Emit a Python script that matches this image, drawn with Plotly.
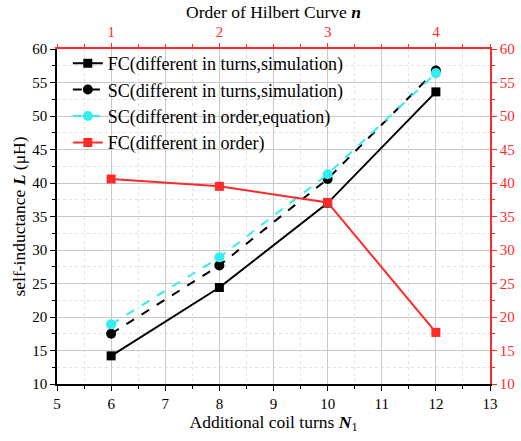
import plotly.graph_objects as go

turns = [6, 8, 10, 12]
orders = [1, 2, 3, 4]
fc_turns = [14.2, 24.4, 37.0, 53.6]
sc_turns = [17.5, 27.7, 40.6, 56.8]
sc_order_eq = [18.9, 28.9, 41.3, 56.4]
fc_order = [40.6, 39.5, 37.1, 17.7]

FONT = "Liberation Serif"
RED = "#ff2a2a"
CYAN = "#33eeee"

fig = go.Figure()
fig.add_trace(go.Scatter(x=turns, y=fc_turns, mode="lines+markers",
                         name="FC(different in turns,simulation)",
                         line=dict(color="black", width=2),
                         marker=dict(symbol="square", size=9, color="black")))
fig.add_trace(go.Scatter(x=turns, y=sc_turns, mode="lines+markers",
                         name="SC(different in turns,simulation)",
                         line=dict(color="black", width=2, dash="dash"),
                         marker=dict(symbol="circle", size=10, color="black")))
fig.add_trace(go.Scatter(x=orders, y=sc_order_eq, mode="lines+markers",
                         name="SC(different in order,equation)",
                         line=dict(color=CYAN, width=2, dash="dash"),
                         marker=dict(symbol="circle", size=10, color=CYAN),
                         xaxis="x2", yaxis="y2"))
fig.add_trace(go.Scatter(x=orders, y=fc_order, mode="lines+markers",
                         name="FC(different in order)",
                         line=dict(color=RED, width=2),
                         marker=dict(symbol="square", size=9, color=RED),
                         xaxis="x2", yaxis="y2"))

grid_major = "#c8c8c8"
grid_minor = "#e2e2e2"

fig.update_layout(
    width=521, height=441,
    margin=dict(l=57, r=31, t=49, b=57, autoexpand=False),
    paper_bgcolor="white", plot_bgcolor="white",
    font=dict(family=FONT, size=15, color="black"),
    showlegend=True,
    legend=dict(x=0.025, y=1.012, xanchor="left", yanchor="top",
                bgcolor="rgba(0,0,0,0)", font=dict(size=18, family=FONT),
                tracegroupgap=0, itemwidth=30),
    xaxis=dict(range=[5, 13], dtick=1, tick0=5, showline=True, linecolor="black",
               linewidth=1.5, ticks="outside", ticklen=5, tickcolor="black",
               zeroline=False, automargin=False,
               showgrid=True, gridcolor=grid_major, gridwidth=1,
               minor=dict(dtick=0.5, ticks="outside", ticklen=3, tickcolor="black",
                          showgrid=True, gridcolor=grid_minor, griddash="dot"),
               title=dict(text="Additional coil turns <b><i>N</i></b><sub>1</sub>",
                          font=dict(size=17.5), standoff=3),
               tickfont=dict(size=15)),
    yaxis=dict(range=[10, 60], dtick=5, tick0=10, showline=True, linecolor="black",
               linewidth=1.5, ticks="outside", ticklen=5, tickcolor="black",
               zeroline=False, automargin=False,
               showgrid=True, gridcolor=grid_major, gridwidth=1,
               minor=dict(dtick=2.5, ticks="outside", ticklen=3, tickcolor="black",
                          showgrid=True, gridcolor=grid_minor, griddash="dot"),
               title=dict(text="self-inductance <b><i>L</i></b> (μH)",
                          font=dict(size=17.5), standoff=2),
               tickfont=dict(size=15)),
    xaxis2=dict(range=[0.5, 4.5], dtick=1, tick0=1, overlaying="x", side="top",
                showline=True, linecolor=RED, linewidth=1.5, ticks="outside",
                ticklen=4, tickcolor=RED, showgrid=False, zeroline=False,
                automargin=False,
                minor=dict(dtick=0.25, ticks="outside", ticklen=3, tickcolor=RED),
                tickfont=dict(color=RED, size=15),
                title=dict(text="Order of Hilbert Curve <b><i>n</i></b>",
                           font=dict(size=17.5, color="black"), standoff=1)),
    yaxis2=dict(range=[10, 60], dtick=5, tick0=10, overlaying="y", side="right",
                showline=True, linecolor=RED, linewidth=1.5, ticks="outside",
                ticklen=5, tickcolor=RED, showgrid=False, zeroline=False,
                automargin=False,
                minor=dict(dtick=2.5, ticks="outside", ticklen=3, tickcolor=RED),
                tickfont=dict(color=RED, size=15)),
)

fig.write_html("out.html", config={"displayModeBar": False},
               post_script="document.body.style.margin='0';")
